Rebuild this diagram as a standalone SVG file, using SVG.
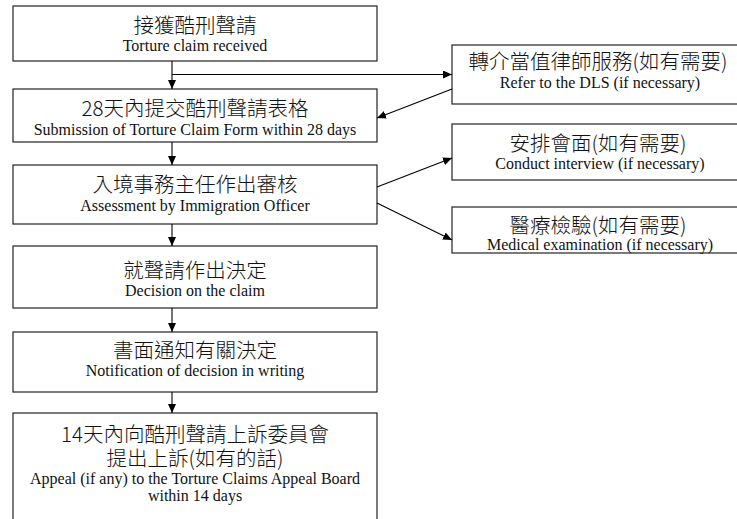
<svg xmlns="http://www.w3.org/2000/svg" width="737" height="519" viewBox="0 0 737 519">
<defs>
<marker id="ah" markerWidth="9" markerHeight="8" refX="9" refY="4" orient="auto" markerUnits="userSpaceOnUse">
<path d="M0,0 L9,4 L0,8 Z" fill="#000"/>
</marker>
<style>
.box{fill:#fff;stroke:#222;stroke-width:1.2}
.zh{font-family:"Noto Sans CJK TC","Noto Sans CJK SC",sans-serif;font-size:20.5px;font-weight:300;fill:#111;text-anchor:middle}
.en{font-family:"Liberation Serif",serif;font-size:16px;fill:#111;text-anchor:middle}
.ln{stroke:#000;stroke-width:1.1;fill:none;marker-end:url(#ah)}
</style>
</defs>
<rect width="737" height="519" fill="#fff"/>
<g id="n1"><rect class="box" x="13" y="6" width="364" height="55"/><text class="zh" x="195" y="33">接獲酷刑聲請</text><text class="en" x="195" y="50.5">Torture claim received</text></g>
<g id="n2"><rect class="box" x="13" y="89" width="364" height="53"/><text class="zh" x="195" y="116">28天內提交酷刑聲請表格</text><text class="en" x="195" y="135">Submission of Torture Claim Form within 28 days</text></g>
<g id="n3"><rect class="box" x="13" y="165" width="364" height="59"/><text class="zh" x="195" y="192">入境事務主任作出審核</text><text class="en" x="195" y="210.5">Assessment by Immigration Officer</text></g>
<g id="n4"><rect class="box" x="13" y="246" width="364" height="62"/><text class="zh" x="195" y="278">就聲請作出決定</text><text class="en" x="195" y="295.5">Decision on the claim</text></g>
<g id="n5"><rect class="box" x="13" y="332" width="364" height="60"/><text class="zh" x="195" y="358">書面通知有關決定</text><text class="en" x="195" y="375.5">Notification of decision in writing</text></g>
<g id="n6"><rect class="box" x="13" y="413" width="364" height="120"/><text class="zh" x="195" y="441.5">14天內向酷刑聲請上訴委員會</text><text class="zh" x="195" y="465.5">提出上訴(如有的話)</text><text class="en" x="195" y="484">Appeal (if any) to the Torture Claims Appeal Board</text><text class="en" x="195" y="501">within 14 days</text></g>
<g id="r1"><rect class="box" x="452" y="45" width="295" height="59"/><text class="zh" x="598" y="69">轉介當值律師服務(如有需要)</text><text class="en" x="600" y="88">Refer to the DLS (if necessary)</text></g>
<g id="r2"><rect class="box" x="452" y="124" width="295" height="56"/><text class="zh" x="598" y="151">安排會面(如有需要)</text><text class="en" x="600" y="169">Conduct interview (if necessary)</text></g>
<g id="r3"><rect class="box" x="452" y="207" width="295" height="46"/><text class="zh" x="598" y="233">醫療檢驗(如有需要)</text><text class="en" x="600" y="249.5">Medical examination (if necessary)</text></g>
<g id="connectors">
<line class="ln" x1="172" y1="61" x2="172" y2="89"/>
<line class="ln" x1="172" y1="74.5" x2="452" y2="74.5"/>
<line class="ln" x1="452" y1="89" x2="377" y2="118"/>
<line class="ln" x1="172" y1="142" x2="172" y2="165"/>
<line class="ln" x1="377" y1="187" x2="452" y2="158"/>
<line class="ln" x1="377" y1="203" x2="452" y2="240"/>
<line class="ln" x1="172" y1="224" x2="172" y2="246"/>
<line class="ln" x1="172" y1="308" x2="172" y2="332"/>
<line class="ln" x1="172" y1="392" x2="172" y2="413"/>
</g>
</svg>
